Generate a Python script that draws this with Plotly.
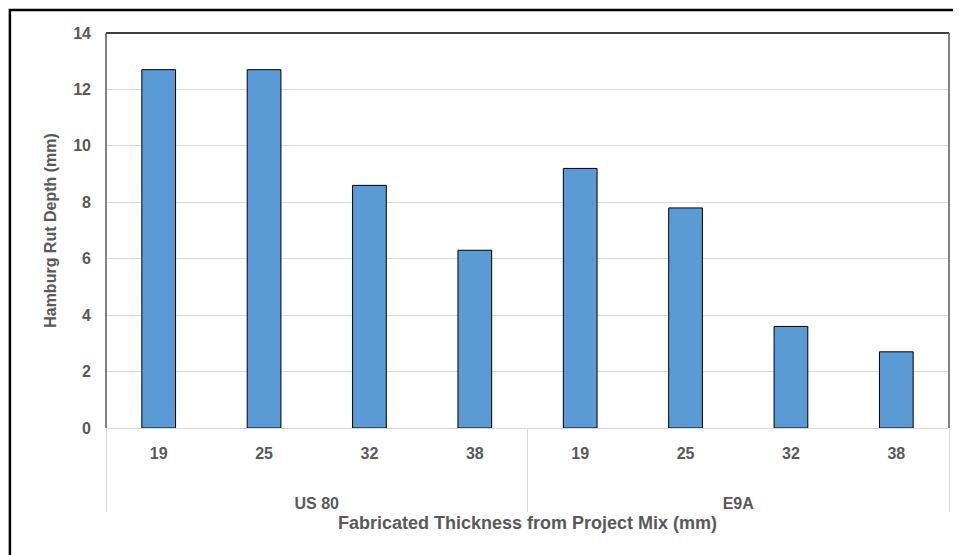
import plotly.graph_objects as go

# Hamburg rut depth by fabricated thickness, grouped by project mix
mixes = ["US 80"] * 4 + ["E9A"] * 4
thickness = ["19", "25", "32", "38"] * 2
rut_depth = [12.7, 12.7, 8.6, 6.3, 9.2, 7.8, 3.6, 2.7]
y_ticks = [0, 2, 4, 6, 8, 10, 12, 14]

FONT = "Liberation Sans, Arial, sans-serif"
GREY = "#595959"

fig = go.Figure()
fig.add_bar(
    # blank leading lines push the group row down, like Excel's roomier layout
    x=[["<br><br>" + m for m in mixes], thickness],
    y=rut_depth,
    marker=dict(color="#5B9BD5", line=dict(color="#000000", width=1)),
    width=0.32,
)

# the page body has an 8px margin, so the figure is sized 8px short each way
fig.update_layout(
    width=953,
    height=547,
    margin=dict(l=98, r=12, t=25, b=127, autoexpand=False),
    paper_bgcolor="white",
    plot_bgcolor="white",
    showlegend=False,
    font=dict(family=FONT, size=16, color=GREY, weight="bold"),
    xaxis=dict(
        type="multicategory",
        showline=True,
        linecolor="#d9d9d9",
        linewidth=1,
        showdividers=True,
        dividercolor="#d9d9d9",
        dividerwidth=1,
        ticklabelstandoff=11,
        tickfont=dict(family=FONT, size=16, color=GREY, weight="bold"),
        title=dict(
            text="Fabricated Thickness from Project Mix (mm)",
            font=dict(family=FONT, size=18, color=GREY, weight="bold"),
            standoff=5,
        ),
    ),
    yaxis=dict(
        range=[0, 14],
        tickvals=y_ticks,
        showgrid=True,
        gridcolor="#d9d9d9",
        zeroline=False,
        ticklabelstandoff=14,
        tickfont=dict(family=FONT, size=16, color=GREY, weight="bold"),
        title=dict(
            text="Hamburg Rut Depth (mm)",
            font=dict(family=FONT, size=16, color=GREY, weight="bold"),
            standoff=12,
        ),
    ),
)

# plot area border (top black, sides dark grey) and the outer chart frame
fig.add_shape(type="line", xref="paper", yref="paper", x0=0, x1=1, y0=1, y1=1,
              line=dict(color="#000000", width=1.5))
fig.add_shape(type="line", xref="paper", yref="paper", x0=0, x1=0, y0=0, y1=1,
              line=dict(color="#595959", width=1.5))
fig.add_shape(type="line", xref="paper", yref="paper", x0=1, x1=1, y0=0, y1=1,
              line=dict(color="#595959", width=1.5))
fig.add_shape(type="rect", xref="paper", yref="paper",
              x0=-0.114, x1=1.05, y0=-0.5, y1=1.058,
              line=dict(color="#000000", width=2.5))

fig.write_html("out.html")
